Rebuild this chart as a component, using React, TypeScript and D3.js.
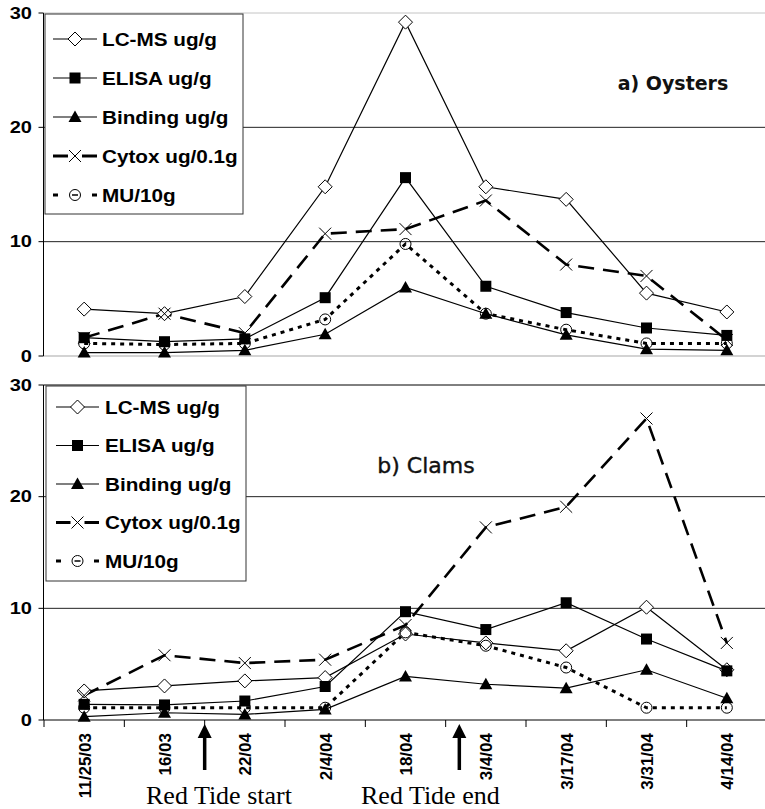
import React from "react";
import * as d3 from "d3";

const categories = ["11/25/03", "16/03", "22/04", "2/4/04", "18/04", "3/4/04", "3/17/04", "3/31/04", "4/14/04"];
const seriesNames = ["LC-MS ug/g", "ELISA ug/g", "Binding ug/g", "Cytox ug/0.1g", "MU/10g"];

const oystersLCMS = [4.1, 3.7, 5.2, 14.8, 29.2, 14.8, 13.7, 5.5, 3.85];
const oystersELISA = [1.6, 1.25, 1.5, 5.1, 15.6, 6.1, 3.8, 2.45, 1.8];
const oystersBinding = [0.3, 0.3, 0.5, 1.9, 6.0, 3.7, 1.85, 0.6, 0.5];
const oystersCytox = [1.6, 3.7, 2.0, 10.7, 11.1, 13.6, 8.0, 7.0, 1.4];
const oystersMU = [1.1, 1.0, 1.1, 3.2, 9.8, 3.7, 2.3, 1.1, 1.1];

const clamsLCMS = [2.6, 3.05, 3.5, 3.8, 7.7, 6.9, 6.2, 10.1, 4.5];
const clamsELISA = [1.4, 1.35, 1.7, 3.0, 9.7, 8.1, 10.5, 7.25, 4.4];
const clamsBinding = [0.3, 0.65, 0.5, 0.95, 3.9, 3.2, 2.85, 4.5, 1.95];
const clamsCytox = [2.2, 5.8, 5.1, 5.4, 8.5, 17.25, 19.1, 27.0, 6.9];
const clamsMU = [1.1, 1.1, 1.1, 1.1, 7.85, 6.65, 4.7, 1.1, 1.1];

const yTicks = [0, 10, 20, 30];
const panelTitles = ["a) Oysters", "b) Clams"];
const annotationLabels = ["Red Tide start", "Red Tide end"];
const annotationPositions = [1.5, 4.67];

const W = 765;
const H = 809;

type Shape = "diamond" | "square" | "triangle" | "cross" | "circle";
const seriesStyles: { shape: Shape; dash: string | null; width: number }[] = [
  { shape: "diamond", dash: null, width: 1.2 },
  { shape: "square", dash: null, width: 1.2 },
  { shape: "triangle", dash: null, width: 1.2 },
  { shape: "cross", dash: "16,9", width: 2.6 },
  { shape: "circle", dash: "4,5", width: 3 },
];

const xBand = d3.scaleBand<string>().domain(categories).range([44, 767]).padding(0);
const xc = (c: string) => (xBand(c) as number) + xBand.bandwidth() / 2;
const xIdx = d3
  .scaleLinear()
  .domain([0, categories.length - 1])
  .range([xc(categories[0]), xc(categories[categories.length - 1])]);

function Marker({ shape, x, y }: { shape: Shape; x: number; y: number }) {
  switch (shape) {
    case "diamond":
      return (
        <path
          d={`M${x},${y - 7}L${x + 7},${y}L${x},${y + 7}L${x - 7},${y}Z`}
          fill="#fff"
          stroke="#000"
          strokeWidth={1}
        />
      );
    case "square":
      return <rect x={x - 5.5} y={y - 5.5} width={11} height={11} fill="#000" />;
    case "triangle":
      return <path d={`M${x},${y - 6.5}L${x + 6.5},${y + 5}L${x - 6.5},${y + 5}Z`} fill="#000" />;
    case "cross":
      return (
        <g stroke="#000" strokeWidth={1}>
          <line x1={x - 6} y1={y - 6} x2={x + 6} y2={y + 6} />
          <line x1={x - 6} y1={y + 6} x2={x + 6} y2={y - 6} />
        </g>
      );
    case "circle":
      return <circle cx={x} cy={y} r={5.5} fill="none" stroke="#000" strokeWidth={1} />;
  }
  return null;
}

type LegendCfg = { x: number; y: number; w: number; h: number; row0: number; step: number; lx0: number; lx1: number; tx: number };

function Legend({ cfg }: { cfg: LegendCfg }) {
  return (
    <g>
      <rect x={cfg.x} y={cfg.y} width={cfg.w} height={cfg.h} fill="#fff" stroke="#333" strokeWidth={1} />
      {seriesNames.map((name, i) => {
        const y = cfg.row0 + cfg.step * i;
        const st = seriesStyles[i];
        const mx = (cfg.lx0 + cfg.lx1) / 2;
        let line;
        if (st.shape === "cross") {
          line = (
            <g stroke="#000" strokeWidth={3}>
              <line x1={cfg.lx0} y1={y} x2={mx - 7} y2={y} />
              <line x1={mx + 7} y1={y} x2={cfg.lx1} y2={y} />
            </g>
          );
        } else if (st.shape === "circle") {
          line = (
            <g stroke="#000" strokeWidth={3}>
              <line x1={cfg.lx0} y1={y} x2={cfg.lx0 + 5} y2={y} />
              <line x1={mx - 3} y1={y} x2={mx + 3} y2={y} strokeWidth={1.5} />
              <line x1={cfg.lx1 - 5} y1={y} x2={cfg.lx1} y2={y} />
            </g>
          );
        } else {
          line = <line x1={cfg.lx0} y1={y} x2={cfg.lx1} y2={y} stroke="#000" strokeWidth={1.2} />;
        }
        return (
          <g key={name}>
            {line}
            <Marker shape={st.shape} x={mx} y={y} />
            <text
              transform={`translate(${cfg.tx},${y}) scale(1.12,1)`}
              dy="0.36em"
              fontFamily="'Liberation Sans', Arial, sans-serif"
              fontWeight="bold"
              fontSize={18.5}
              fill="#000"
            >
              {name}
            </text>
          </g>
        );
      })}
    </g>
  );
}

type PanelProps = {
  series: number[][];
  yRange: [number, number];
  legend: LegendCfg;
  title: string;
  titleX: number;
  titleY: number;
  titleBold: boolean;
  titleSize: number;
  top: boolean;
};

function Panel(p: PanelProps) {
  const y = d3.scaleLinear().domain([0, 30]).range(p.yRange);
  const line = d3
    .line<number>()
    .x((_, i) => xc(categories[i]))
    .y((d) => y(d));
  const x0 = 43.5;
  const x1 = 767;
  return (
    <g>
      {yTicks.map((t) => {
        let stroke = "#222";
        if (p.top && (t === 0 || t === 30)) stroke = "#c4c4c4";
        if (!p.top && t === 0) stroke = "#000";
        if (!p.top && t === 30) stroke = "#000";
        return <line key={t} x1={x0} x2={x1} y1={y(t)} y2={y(t)} stroke={stroke} strokeWidth={t === 0 && p.top ? 1.5 : 1} />;
      })}
      <line x1={x0} x2={x0} y1={y(0)} y2={y(30)} stroke="#000" strokeWidth={1} />
      {yTicks.map((t) => (
        <g key={"t" + t}>
          <line x1={x0 - 5} x2={x0} y1={y(t)} y2={y(t)} stroke="#000" />
          <text
            transform={`translate(32,${y(t)}) scale(1.25,1)`}
            dy="0.36em"
            textAnchor="end"
            fontFamily="'Liberation Sans', Arial, sans-serif"
            fontWeight="bold"
            fontSize={16}
            fill="#000"
          >
            {t}
          </text>
        </g>
      ))}
      {!p.top &&
        d3.range(categories.length + 1).map((i) => {
          const bx = 44 + xBand.step() * i;
          return <line key={"bt" + i} x1={bx} x2={bx} y1={y(0)} y2={y(0) + 7} stroke="#000" />;
        })}
      {p.series.map((s, i) => (
        <path
          key={"l" + i}
          d={line(s) || ""}
          fill="none"
          stroke="#000"
          strokeWidth={seriesStyles[i].width}
          strokeDasharray={seriesStyles[i].dash || undefined}
        />
      ))}
      {p.series.map((s, i) => (
        <g key={"m" + i}>
          {s.map((v, j) => (
            <Marker key={j} shape={seriesStyles[i].shape} x={xc(categories[j])} y={y(v)} />
          ))}
        </g>
      ))}
      <Legend cfg={p.legend} />
      <text
        x={p.titleX}
        y={p.titleY}
        textAnchor="middle"
        fontFamily="'DejaVu Sans', Verdana, sans-serif"
        fontWeight={p.titleBold ? "bold" : "normal"}
        fontSize={p.titleSize}
        fill="#111"
        stroke="#111"
        strokeWidth={p.titleBold ? 0 : 0.4}
      >
        {p.title}
      </text>
    </g>
  );
}

export default function App() {
  const axisY = 720;
  return (
    <svg
      width={W}
      height={H}
      viewBox={`0 0 ${W} ${H}`}
      style={{ position: "absolute", left: 0, top: 0, background: "#fff" }}
    >
      <rect width={W} height={H} fill="#fff" />
      <Panel
        series={[oystersLCMS, oystersELISA, oystersBinding, oystersCytox, oystersMU]}
        yRange={[356, 13]}
        legend={{ x: 45, y: 14, w: 198, h: 200, row0: 39, step: 39, lx0: 53, lx1: 97, tx: 102 }}
        title={panelTitles[0]}
        titleX={673}
        titleY={90}
        titleBold={true}
        titleSize={19}
        top={true}
      />
      <Panel
        series={[clamsLCMS, clamsELISA, clamsBinding, clamsCytox, clamsMU]}
        yRange={[720, 385]}
        legend={{ x: 46, y: 386, w: 200, h: 195, row0: 407, step: 38.5, lx0: 56, lx1: 99, tx: 105 }}
        title={panelTitles[1]}
        titleX={426}
        titleY={473}
        titleBold={false}
        titleSize={22}
        top={false}
      />
      {categories.map((c) => (
        <text
          key={c}
          transform={`translate(${xc(c) + 6.5},733) rotate(-90)`}
          textAnchor="end"
          fontFamily="'Liberation Sans', Arial, sans-serif"
          fontWeight="bold"
          fontSize={17}
          fill="#000"
        >
          {c}
        </text>
      ))}
      {annotationPositions.map((pos, i) => {
        const ax = xIdx(pos);
        return (
          <g key={"a" + i}>
            <line x1={ax} x2={ax} y1={735} y2={770} stroke="#000" strokeWidth={3.5} />
            <path d={`M${ax},${724}L${ax + 7},${738}L${ax - 7},${738}Z`} fill="#000" />
          </g>
        );
      })}
      <text x={146} y={804} fontFamily="'Liberation Serif', 'Times New Roman', serif" fontSize={26} fill="#000">
        {annotationLabels[0]}
      </text>
      <text x={361} y={804} fontFamily="'Liberation Serif', 'Times New Roman', serif" fontSize={26} fill="#000">
        {annotationLabels[1]}
      </text>
    </svg>
  );
}
